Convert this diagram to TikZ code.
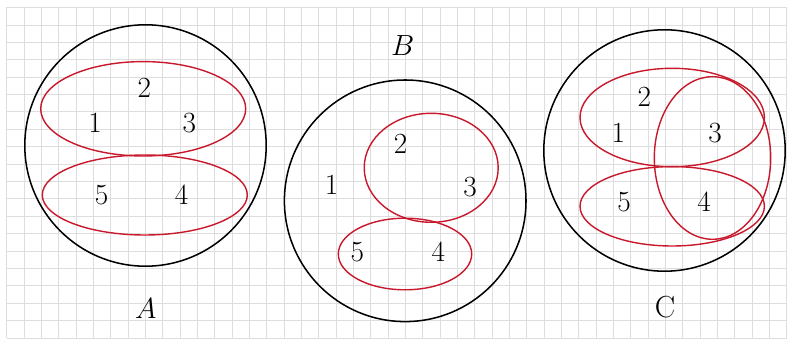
\documentclass[tikz,border=0pt]{standalone}
\usepackage{tikz}
\definecolor{partred}{RGB}{200,24,44}
\definecolor{gridgray}{RGB}{222,222,222}

\begin{document}
\begin{tikzpicture}[
x=0.03cm, y=0.03cm,
gridline/.style={draw=gridgray, line width=0.75pt},
universe/.style={draw=black, line width=1.3pt},
block/.style={draw=partred, line width=1.2pt},
elem/.style={inner sep=0pt, font=\fontsize{25}{30}\selectfont},
setname/.style={inner sep=0pt, font=\fontsize{26}{30}\selectfont}
]
\useasboundingbox (0,0) rectangle (789,343);
\draw[gridline, shift={(6.7,5)}] (0,0) grid[xstep=17.333, ystep=17.39] (780.1,330.6);

% partition A
\draw[universe] (145.5,197.5) circle[radius=120.7];
\draw[block] (143.2,234.2) ellipse[x radius=102.5, y radius=47.2];
\draw[block] (144.8,148) ellipse[x radius=102.5, y radius=40];
\node[elem] (a2) at (144.3,254.7) {2};
\node[elem] (a1) at (95,220.3) {1};
\node[elem] (a3) at (189.3,219.7) {3};
\node[elem] (a5) at (101.7,148) {5};
\node[elem] (a4) at (181.7,148) {4};
\node[setname] (nameA) at (145.7,34) {$A$};

% partition B
\draw[universe] (405.2,142.2) circle[radius=120.8];
\draw[block] (431.2,175.2) ellipse[x radius=67, y radius=54.5];
\draw[block] (405,89) ellipse[x radius=66.7, y radius=35.8];
\node[elem] (b2) at (400.7,199) {2};
\node[elem] (b1) at (331.7,158) {1};
\node[elem] (b3) at (470,155.7) {3};
\node[elem] (b5) at (357.3,91.3) {5};
\node[elem] (b4) at (438.3,91.3) {4};
\node[setname] (nameB) at (402.7,297) {$B$};

% partition C
\draw[universe] (664.5,192.5) circle[radius=120.7];
\draw[block] (672.2,225.5) ellipse[x radius=92.2, y radius=49.2];
\draw[block] (672.2,136.7) ellipse[x radius=92.2, y radius=39.7];
\draw[block] (712.5,185) ellipse[x radius=58.2, y radius=81.3];
\node[elem] (c2) at (644.3,246.3) {2};
\node[elem] (c1) at (618.3,210.3) {1};
\node[elem] (c3) at (715,209.7) {3};
\node[elem] (c5) at (624,141.3) {5};
\node[elem] (c4) at (704,141.3) {4};
\node[setname] (nameC) at (665,36.3) {C};
\end{tikzpicture}
\end{document}
